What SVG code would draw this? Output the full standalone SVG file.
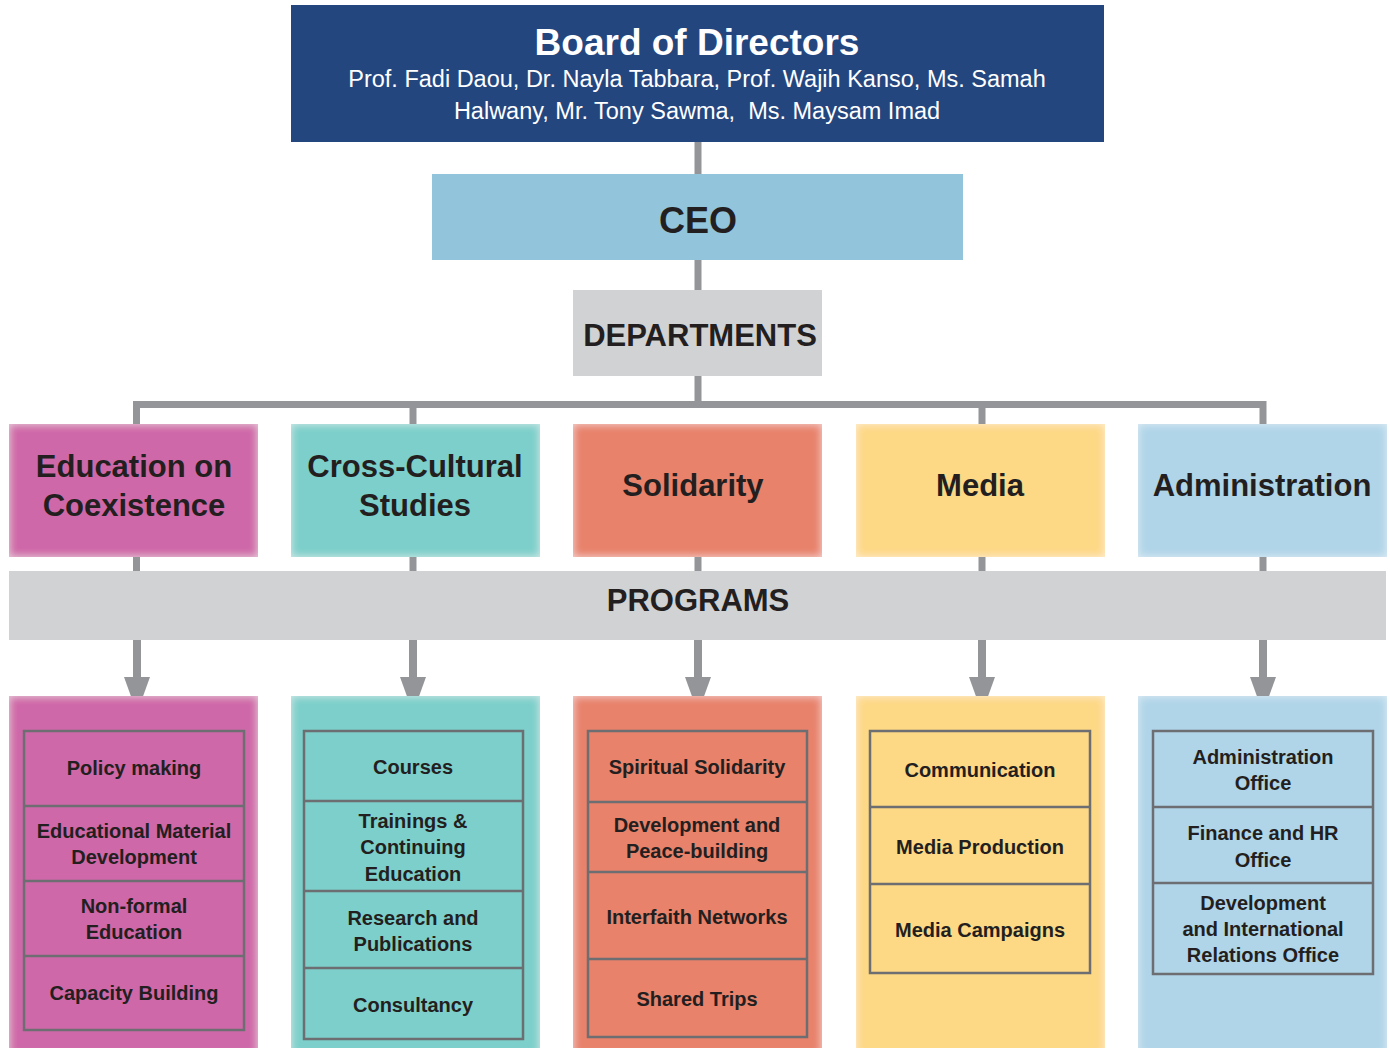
<svg xmlns="http://www.w3.org/2000/svg" width="1390" height="1048" viewBox="0 0 1390 1048">
<defs>
<filter id="inner" x="-5%" y="-5%" width="110%" height="110%">
<feGaussianBlur in="SourceAlpha" stdDeviation="4" result="blur"/>
<feComposite in="SourceAlpha" in2="blur" operator="out" result="edge"/>
<feFlood flood-color="#ffffff" flood-opacity="0.55"/>
<feComposite in2="edge" operator="in" result="glow"/>
<feMerge><feMergeNode in="SourceGraphic"/><feMergeNode in="glow"/></feMerge>
</filter>
</defs>
<style>
text{font-family:"Liberation Sans",Arial,sans-serif;text-anchor:middle;fill:#231f20;font-weight:bold}
.dept{font-size:31px}
.prog{font-size:20px}
.sub{font-size:23.5px;font-weight:normal;fill:#ffffff}
.conn{stroke:#939598;fill:none}
.cell{stroke:#6d6e71;stroke-width:2.5}
.pink{fill:#cf68a8}.teal{fill:#7dcfcb}.salmon{fill:#e8826a}.yellow{fill:#fdd885}.blue{fill:#b0d5e8}
</style>
<rect width="1390" height="1048" fill="#ffffff"/>

<g id="connectors">
<line class="conn" x1="698" y1="142" x2="698" y2="405" stroke-width="7"/>
<polyline class="conn" points="136.5,424 136.5,404.5 1263,404.5 1263,424" stroke-width="7"/>
<line class="conn" x1="413" y1="404" x2="413" y2="424" stroke-width="7"/>
<line class="conn" x1="982" y1="404" x2="982" y2="424" stroke-width="7"/>
<line class="conn" x1="136.5" y1="557" x2="136.5" y2="571" stroke-width="7"/>
<line class="conn" x1="413" y1="557" x2="413" y2="571" stroke-width="7"/>
<line class="conn" x1="698" y1="557" x2="698" y2="571" stroke-width="7"/>
<line class="conn" x1="982" y1="557" x2="982" y2="571" stroke-width="7"/>
<line class="conn" x1="1263" y1="557" x2="1263" y2="571" stroke-width="7"/>
<g fill="#939598">
<rect x="133" y="640" width="8" height="42"/><polygon points="124,677 150,677 137,713"/>
<rect x="409" y="640" width="8" height="42"/><polygon points="400,677 426,677 413,713"/>
<rect x="694" y="640" width="8" height="42"/><polygon points="685,677 711,677 698,713"/>
<rect x="978" y="640" width="8" height="42"/><polygon points="969,677 995,677 982,713"/>
<rect x="1259" y="640" width="8" height="42"/><polygon points="1250,677 1276,677 1263,713"/>
</g>
</g>

<g id="board">
<rect x="291" y="5" width="813" height="137" fill="#24467f"/>
<text x="697" y="55" font-size="37" style="fill:#ffffff">Board of Directors</text>
<text class="sub" x="697" y="87">Prof. Fadi Daou, Dr. Nayla Tabbara, Prof. Wajih Kanso, Ms. Samah</text>
<text class="sub" x="697" y="119" xml:space="preserve">Halwany, Mr. Tony Sawma,  Ms. Maysam Imad</text>
</g>

<g id="ceo">
<rect x="432" y="174" width="531" height="86" fill="#92c4dc"/>
<text x="698" y="233" font-size="36">CEO</text>
</g>

<g id="departments">
<rect x="573" y="290" width="249" height="86" fill="#d1d2d4"/>
<text class="dept" x="700" y="346">DEPARTMENTS</text>
</g>

<g id="dept-education">
<rect class="pink" x="9" y="424" width="249" height="133" filter="url(#inner)"/>
<text class="dept" x="134" y="477">Education on</text>
<text class="dept" x="134" y="516">Coexistence</text>
</g>
<g id="dept-crosscultural">
<rect class="teal" x="291" y="424" width="249" height="133" filter="url(#inner)"/>
<text class="dept" x="415" y="477">Cross-Cultural</text>
<text class="dept" x="415" y="516">Studies</text>
</g>
<g id="dept-solidarity">
<rect class="salmon" x="573" y="424" width="249" height="133" filter="url(#inner)"/>
<text class="dept" x="693" y="496">Solidarity</text>
</g>
<g id="dept-media">
<rect class="yellow" x="856" y="424" width="249" height="133" filter="url(#inner)"/>
<text class="dept" x="980" y="496">Media</text>
</g>
<g id="dept-administration">
<rect class="blue" x="1138" y="424" width="249" height="133" filter="url(#inner)"/>
<text class="dept" x="1262" y="496">Administration</text>
</g>

<g id="programs">
<rect x="9" y="571" width="1377" height="69" fill="#d1d2d4"/>
<text class="dept" x="698" y="611">PROGRAMS</text>
</g>

<g id="prog-education">
<rect class="pink" x="9" y="696" width="249" height="360" filter="url(#inner)"/>
<rect class="cell" x="24" y="731" width="220" height="299" fill="none"/>
<line class="cell" x1="24" y1="806" x2="244" y2="806"/>
<line class="cell" x1="24" y1="881" x2="244" y2="881"/>
<line class="cell" x1="24" y1="956" x2="244" y2="956"/>
<text class="prog" x="134" y="775">Policy making</text>
<text class="prog" x="134" y="838">Educational Material</text>
<text class="prog" x="134" y="864">Development</text>
<text class="prog" x="134" y="913">Non-formal</text>
<text class="prog" x="134" y="939">Education</text>
<text class="prog" x="134" y="1000">Capacity Building</text>
</g>

<g id="prog-crosscultural">
<rect class="teal" x="291" y="696" width="249" height="360" filter="url(#inner)"/>
<rect class="cell" x="304" y="731" width="219" height="308" fill="none"/>
<line class="cell" x1="304" y1="801" x2="523" y2="801"/>
<line class="cell" x1="304" y1="891" x2="523" y2="891"/>
<line class="cell" x1="304" y1="968" x2="523" y2="968"/>
<text class="prog" x="413" y="774">Courses</text>
<text class="prog" x="413" y="828">Trainings &amp;</text>
<text class="prog" x="413" y="854">Continuing</text>
<text class="prog" x="413" y="881">Education</text>
<text class="prog" x="413" y="925">Research and</text>
<text class="prog" x="413" y="951">Publications</text>
<text class="prog" x="413" y="1012">Consultancy</text>
</g>

<g id="prog-solidarity">
<rect class="salmon" x="573" y="696" width="249" height="360" filter="url(#inner)"/>
<rect class="cell" x="588" y="731" width="219" height="306" fill="none"/>
<line class="cell" x1="588" y1="802" x2="807" y2="802"/>
<line class="cell" x1="588" y1="872" x2="807" y2="872"/>
<line class="cell" x1="588" y1="959" x2="807" y2="959"/>
<text class="prog" x="697" y="774">Spiritual Solidarity</text>
<text class="prog" x="697" y="832">Development and</text>
<text class="prog" x="697" y="858">Peace-building</text>
<text class="prog" x="697" y="924">Interfaith Networks</text>
<text class="prog" x="697" y="1006">Shared Trips</text>
</g>

<g id="prog-media">
<rect class="yellow" x="856" y="696" width="249" height="360" filter="url(#inner)"/>
<rect class="cell" x="870" y="731" width="220" height="242" fill="none"/>
<line class="cell" x1="870" y1="807" x2="1090" y2="807"/>
<line class="cell" x1="870" y1="884" x2="1090" y2="884"/>
<text class="prog" x="980" y="777">Communication</text>
<text class="prog" x="980" y="854">Media Production</text>
<text class="prog" x="980" y="937">Media Campaigns</text>
</g>

<g id="prog-administration">
<rect class="blue" x="1138" y="696" width="249" height="360" filter="url(#inner)"/>
<rect class="cell" x="1153" y="731" width="220" height="243" fill="none"/>
<line class="cell" x1="1153" y1="807" x2="1373" y2="807"/>
<line class="cell" x1="1153" y1="883" x2="1373" y2="883"/>
<text class="prog" x="1263" y="764">Administration</text>
<text class="prog" x="1263" y="790">Office</text>
<text class="prog" x="1263" y="840">Finance and HR</text>
<text class="prog" x="1263" y="867">Office</text>
<text class="prog" x="1263" y="910">Development</text>
<text class="prog" x="1263" y="936">and International</text>
<text class="prog" x="1263" y="962">Relations Office</text>
</g>
</svg>
